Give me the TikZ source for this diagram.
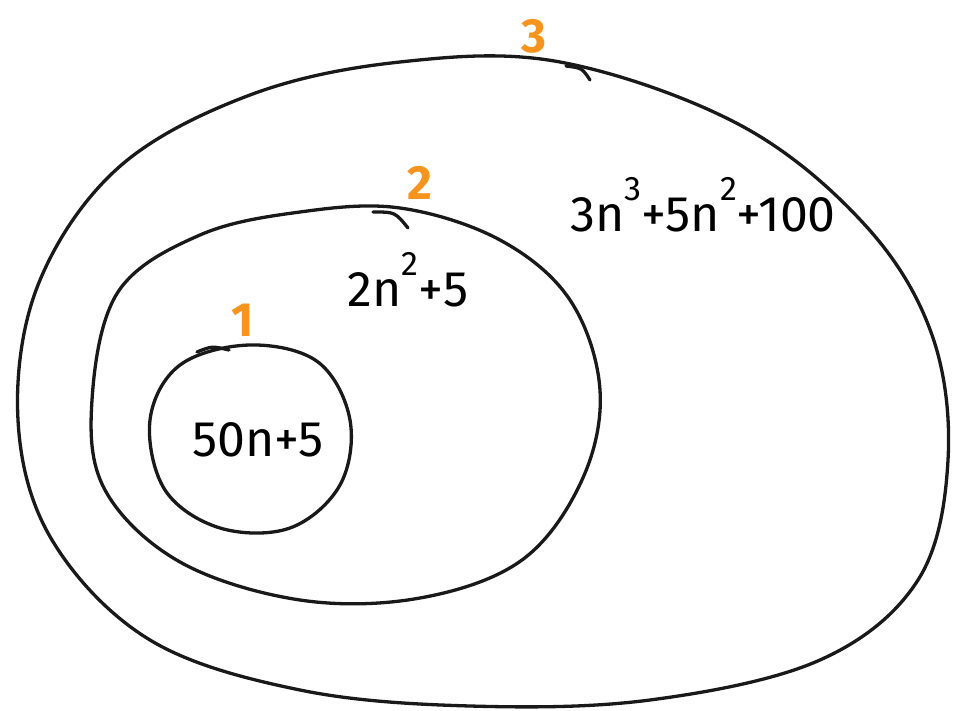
\documentclass[tikz,border=0pt]{standalone}
\usepackage{fontspec}
\setmainfont{Fira Sans}
\definecolor{penorange}{HTML}{F7941D}
\newcommand{\pw}[1]{\raisebox{0.62em}{\fontsize{34}{36}\selectfont #1}}
\tikzset{
  stroke/.style={line width=3.3pt, line cap=round, line join=round, black!90},
  tick/.style={line width=3.3pt, line cap=round, black!90},
  expr/.style={font=\fontsize{50}{56}\selectfont, text=black, inner sep=0pt},
  num/.style={font=\fontsize{48}{52}\selectfont\bfseries, text=penorange, inner sep=0pt}
}
\begin{document}
\begin{tikzpicture}[x=1pt,y=-1pt]
\useasboundingbox (0,0) rectangle (961,711);
% outer set
\draw[stroke] plot[smooth cycle, tension=0.6] coordinates {
  (560,62) (740,125) (865,225) (932,335) (948,460) (918,580) (820,660)
  (650,700) (470,706) (300,690) (150,640) (52,540) (18,420) (38,285)
  (118,168) (250,95) (400,62)};
% middle set
\draw[stroke] plot[smooth cycle, tension=0.6] coordinates {
  (400,208) (500,240) (570,300) (600,390) (582,480) (522,560) (420,598)
  (300,600) (180,562) (105,490) (92,400) (118,292) (200,235) (300,212)};
% inner set
\draw[stroke] plot[smooth cycle, tension=0.6] coordinates {
  (250,345) (318,362) (350,420) (340,485) (290,528) (220,528) (165,490)
  (150,420) (180,365)};
% overlapping pen strokes where each curve closes
\draw[tick] (566,66) .. controls (582,68) .. (590,80);
\draw[tick] (373,212) .. controls (395,212) .. (408,228);
\draw[tick] (197,352) .. controls (212,346) .. (229,350);
% labels
\node[num] (n3) at (534,36) {3};
\node[num] (n2) at (420,183) {2};
\node[num] (n1) at (243,320) {1};
\node[expr] (e1) at (258,440) {50n+5};
\node[expr] (e2) at (408,280) {2n\pw{2}+5};
\node[expr] (e3) at (703,205) {3n\pw{3}+5n\pw{2}+100};
\end{tikzpicture}
\end{document}
